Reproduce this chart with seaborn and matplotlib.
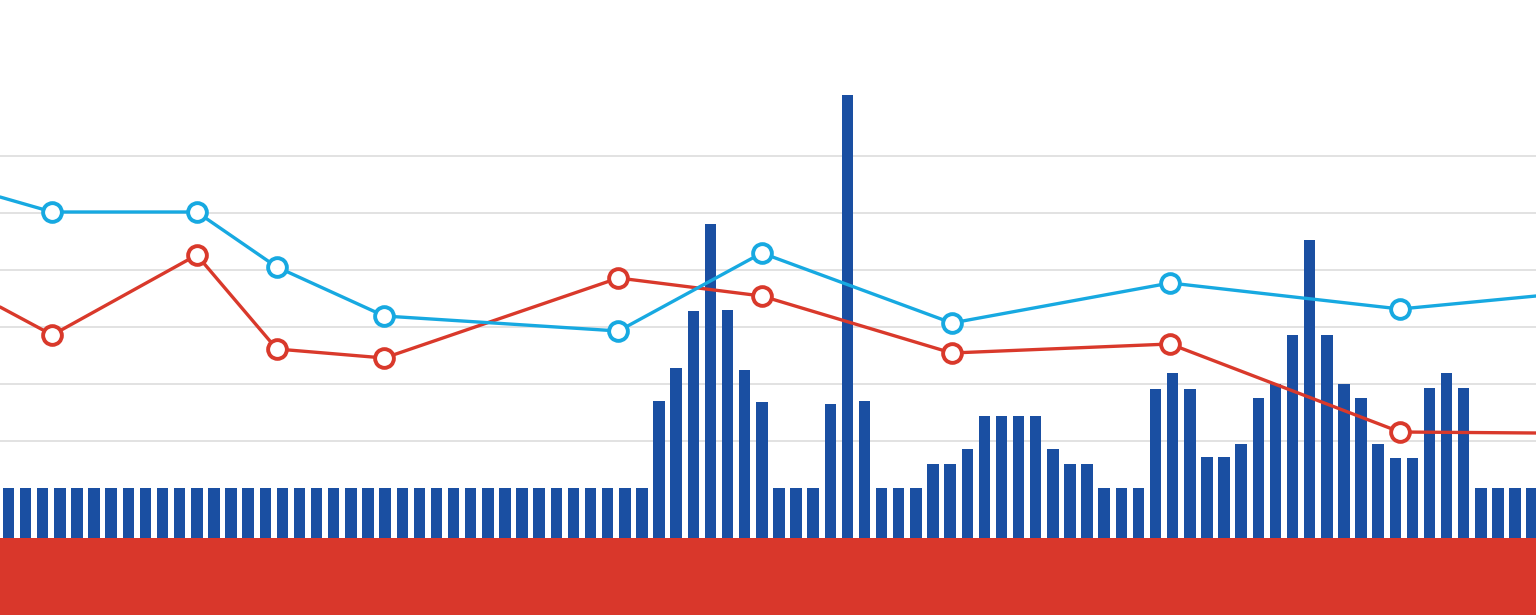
import matplotlib
matplotlib.use('Agg')
import matplotlib.pyplot as plt
import numpy as np
import pandas as pd
import seaborn as sns

# bar heights (one per slot, left to right)
bar_values = ([50] * 38
              + [137, 170, 227, 314, 228, 168, 136]
              + [50, 50, 50]
              + [134, 443, 137]
              + [50, 50, 50]
              + [74, 74, 89, 122, 122, 122, 122, 89, 74, 74]
              + [50, 50, 50]
              + [149, 165, 149, 81, 81, 94, 140, 154, 203, 298, 203, 154, 140, 94, 80, 80, 150, 165, 150]
              + [50, 50, 50, 50])

# line points (x in bar-slot units, first and last sit on the frame edges)
line_x = [-0.49, 2.56, 11.0, 15.67, 21.95, 35.63, 44.0, 55.1, 67.85, 81.28, 89.22]
cyan_values = [341, 326, 326, 271, 222, 207, 285, 215, 255, 229, 242]
red_values = [231, 203, 283, 189, 180, 260, 242, 185, 194, 106, 105]

grid_levels = [97, 154, 211, 268, 325, 382]

BLUE = '#1a4fa2'
CYAN = '#17a9e1'
RED = '#d9392b'
BAND = '#d9372b'

sns.set_style('white')

bars = pd.DataFrame({'slot': np.arange(len(bar_values)), 'value': bar_values})
lines = pd.DataFrame({'x': line_x, 'cyan': cyan_values, 'red': red_values})

fig = plt.figure(figsize=(15.36, 6.15), dpi=100)
ax = fig.add_axes([0, 0, 1, 1])

sns.barplot(data=bars, x='slot', y='value', color=BLUE, width=0.67,
            linewidth=0, saturation=1, ax=ax, zorder=2)

inner = list(range(1, len(line_x) - 1))
for col, c in [('red', RED), ('cyan', CYAN)]:
    sns.lineplot(data=lines, x='x', y=col, color=c, linewidth=2.4, ax=ax,
                 marker='o', markevery=inner, markersize=13.5,
                 markerfacecolor='white', markeredgecolor=c, markeredgewidth=2.8,
                 zorder=4, sort=False)

# red band at the bottom
ax.axhspan(-90, 0, color=BAND, zorder=5, linewidth=0)

ax.set_xlim(-0.494, 89.22)
ax.set_ylim(-77, 538)
ax.set_yticks(grid_levels)
ax.set_xticks([])
ax.yaxis.grid(True, color='#dddddd', linewidth=1.2, zorder=0)
ax.set_axisbelow(True)
ax.tick_params(length=0, labelleft=False, labelbottom=False)
ax.set_xlabel('')
ax.set_ylabel('')
sns.despine(ax=ax, left=True, bottom=True)

fig.savefig('out.png', dpi=100)
